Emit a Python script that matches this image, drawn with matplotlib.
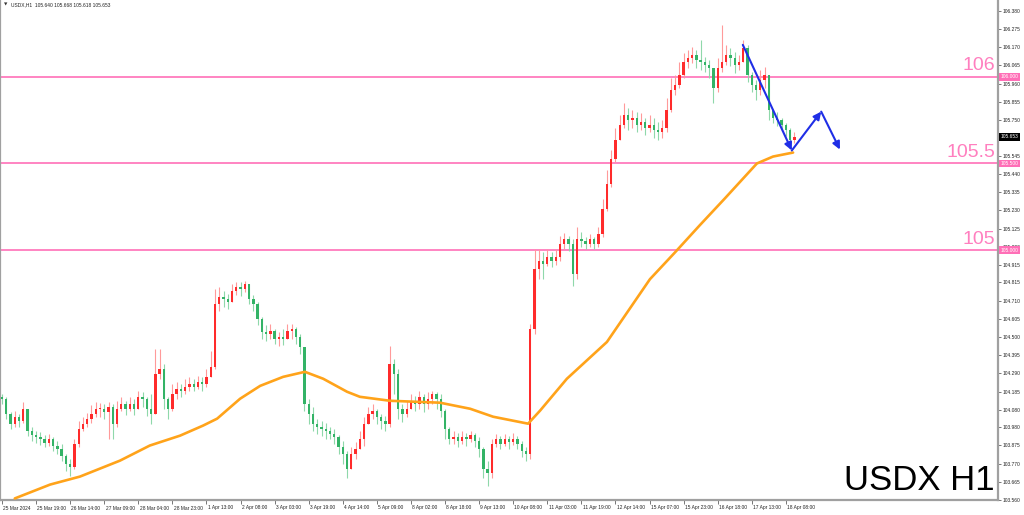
import matplotlib
matplotlib.use("Agg")
import matplotlib.pyplot as plt
import matplotlib.transforms as mtransforms
import numpy as np

# ---------------- data ----------------
first_open = 104.155
closes = [
    104.144, 104.057, 104.000, 104.040, 104.017, 104.086, 103.960, 103.937, 103.925, 103.914,
    103.891, 103.914, 103.874, 103.856, 103.816, 103.770, 103.753, 103.885, 103.971, 104.000,
    104.029, 104.057, 104.086, 104.086, 104.069, 104.098, 104.000, 104.086, 104.115, 104.086,
    104.115, 104.086, 104.155, 104.144, 104.086, 104.057, 104.287, 104.316, 104.144, 104.086,
    104.172, 104.201, 104.190, 104.213, 104.230, 104.213, 104.241, 104.230, 104.270, 104.327,
    104.690, 104.730, 104.718, 104.701, 104.764, 104.787, 104.776, 104.805, 104.718, 104.690,
    104.603, 104.529, 104.517, 104.534, 104.488, 104.500, 104.488, 104.534, 104.546, 104.500,
    104.442, 104.115, 104.057, 104.000, 103.983, 103.971, 103.960, 103.943, 103.925, 103.868,
    103.828, 103.741, 103.828, 103.856, 103.914, 104.000, 104.057, 104.075, 104.040, 104.017,
    104.000, 104.345, 104.287, 104.086, 104.057, 104.086, 104.132, 104.115, 104.155, 104.115,
    104.144, 104.172, 104.144, 104.075, 103.971, 103.914, 103.925, 103.902, 103.925, 103.914,
    103.937, 103.902, 103.856, 103.741, 103.713, 103.885, 103.914, 103.885, 103.914, 103.897,
    103.914, 103.885, 103.845, 103.828, 104.546, 104.891, 104.937, 104.919, 104.960, 104.937,
    104.960, 105.034, 105.063, 105.034, 104.862, 105.063, 105.052, 105.034, 105.063, 105.034,
    105.092, 105.236, 105.379, 105.523, 105.638, 105.724, 105.782, 105.753, 105.764, 105.724,
    105.741, 105.707, 105.724, 105.695, 105.684, 105.707, 105.810, 105.925, 105.954, 106.011,
    106.086, 106.109, 106.126, 106.098, 106.086, 106.069, 106.052, 105.937, 106.052, 106.086,
    106.126, 106.109, 106.069, 106.086, 106.167, 106.011, 105.954, 105.925, 105.983, 106.011,
    105.810, 105.764, 105.753, 105.724, 105.695, 105.638, 105.653,
]
highs = [
    104.172, 104.155, 104.069, 104.075, 104.057, 104.126, 104.086, 103.983, 103.960, 103.954,
    103.937, 103.943, 103.925, 103.902, 103.885, 103.828, 103.799, 103.914, 104.017, 104.040,
    104.063, 104.109, 104.126, 104.121, 104.115, 104.126, 104.115, 104.132, 104.155, 104.132,
    104.155, 104.144, 104.190, 104.184, 104.155, 104.172, 104.431, 104.431, 104.345, 104.155,
    104.230, 104.241, 104.230, 104.259, 104.270, 104.259, 104.276, 104.270, 104.316, 104.420,
    104.776, 104.787, 104.764, 104.747, 104.805, 104.816, 104.816, 104.822, 104.805, 104.741,
    104.701, 104.615, 104.569, 104.575, 104.546, 104.529, 104.546, 104.575, 104.575, 104.557,
    104.517, 104.442, 104.144, 104.098, 104.029, 104.017, 104.006, 103.983, 103.971, 103.937,
    103.902, 103.845, 103.868, 103.897, 103.960, 104.040, 104.098, 104.115, 104.086, 104.057,
    104.046, 104.448, 104.374, 104.316, 104.115, 104.132, 104.172, 104.161, 104.190, 104.172,
    104.184, 104.190, 104.184, 104.172, 104.086, 103.983, 103.960, 103.948, 103.960, 103.948,
    103.960, 103.948, 103.925, 103.868, 103.787, 103.914, 103.943, 103.931, 103.943, 103.931,
    103.948, 103.931, 103.902, 103.868, 104.575, 105.006, 105.006, 104.988, 105.006, 104.988,
    105.006, 105.080, 105.098, 105.080, 105.063, 105.132, 105.103, 105.075, 105.092, 105.075,
    105.132, 105.293, 105.465, 105.580, 105.707, 105.782, 105.851, 105.822, 105.810, 105.799,
    105.793, 105.764, 105.782, 105.764, 105.741, 105.753, 105.879, 105.994, 106.011, 106.086,
    106.138, 106.155, 106.172, 106.155, 106.213, 106.115, 106.098, 106.040, 106.109, 106.299,
    106.184, 106.167, 106.144, 106.126, 106.213, 106.184, 106.029, 105.983, 106.040, 106.057,
    105.954, 105.810, 105.799, 105.764, 105.736, 105.707, 105.680,
]
lows = [
    104.115, 104.029, 103.971, 103.983, 103.983, 104.006, 103.931, 103.902, 103.891, 103.879,
    103.868, 103.874, 103.845, 103.828, 103.787, 103.730, 103.701, 103.741, 103.868, 103.960,
    103.983, 104.006, 104.040, 104.040, 104.029, 103.914, 103.914, 103.983, 104.075, 104.052,
    104.075, 104.052, 104.115, 104.098, 104.046, 104.000, 104.057, 104.259, 104.086, 104.029,
    104.075, 104.144, 104.155, 104.172, 104.190, 104.190, 104.201, 104.190, 104.213, 104.270,
    104.316, 104.649, 104.672, 104.661, 104.718, 104.741, 104.736, 104.759, 104.690, 104.649,
    104.569, 104.488, 104.477, 104.488, 104.460, 104.448, 104.454, 104.500, 104.488, 104.460,
    104.402, 104.075, 104.000, 103.960, 103.943, 103.931, 103.914, 103.914, 103.885, 103.828,
    103.770, 103.684, 103.741, 103.799, 103.856, 103.874, 104.000, 104.029, 104.000, 103.971,
    103.960, 103.983, 104.172, 104.029, 104.011, 104.040, 104.086, 104.075, 104.086, 104.069,
    104.086, 104.115, 104.086, 104.040, 103.914, 103.885, 103.885, 103.868, 103.885, 103.874,
    103.897, 103.868, 103.810, 103.684, 103.638, 103.684, 103.868, 103.856, 103.874, 103.856,
    103.879, 103.856, 103.810, 103.787, 103.799, 104.517, 104.833, 104.833, 104.908, 104.902,
    104.914, 104.937, 105.006, 104.994, 104.793, 104.833, 105.017, 105.006, 105.017, 105.006,
    105.017, 105.075, 105.224, 105.362, 105.511, 105.638, 105.707, 105.695, 105.707, 105.684,
    105.695, 105.667, 105.684, 105.649, 105.638, 105.649, 105.684, 105.799, 105.897, 105.937,
    105.994, 106.052, 106.080, 106.052, 106.040, 106.029, 105.994, 105.851, 105.914, 106.029,
    106.069, 106.063, 106.023, 106.040, 106.098, 105.971, 105.914, 105.868, 105.897, 105.937,
    105.753, 105.736, 105.718, 105.695, 105.661, 105.598, 105.618,
]

# moving average (orange) points: bar position, value
ma_pos = [3.0, 11.3, 18.3, 27.7, 34.7, 41.8, 47.2, 50.5, 55.9, 60.6, 66.0, 71.1, 75.4, 81.0,
          84.0, 91.1, 102.8, 109.9, 115.3, 123.5, 126.3, 132.6, 142.0, 152.1, 158.0, 163.8,
          169.7, 177.2, 181.0, 185.7]
ma_vals = [103.569, 103.649, 103.695, 103.787, 103.874, 103.931, 103.989, 104.029, 104.144,
           104.218, 104.270, 104.299, 104.259, 104.184, 104.155, 104.132, 104.121, 104.086,
           104.040, 104.000, 104.075, 104.259, 104.471, 104.833, 104.988, 105.144, 105.299,
           105.500, 105.540, 105.563]

# projected path (blue arrows)
path_pos = [173.9, 185.4, 192.3, 196.7]
path_vals = [106.184, 105.575, 105.799, 105.580]

levels = [106.0, 105.5, 105.0]
level_names = ["106", "105.5", "105"]
level_tags = ["106.000", "105.500", "105.000"]
last_price = 105.653

price_ticks = [106.380, 106.275, 106.170, 106.065, 105.960, 105.855, 105.750, 105.545,
               105.440, 105.335, 105.230, 105.125, 105.020, 104.915, 104.815, 104.710,
               104.605, 104.500, 104.395, 104.290, 104.185, 104.080, 103.980, 103.875,
               103.770, 103.665, 103.560]

time_labels = ["25 Mar 2024", "25 Mar 19:00", "26 Mar 14:00", "27 Mar 09:00", "28 Mar 04:00",
               "28 Mar 23:00", "1 Apr 13:00", "2 Apr 08:00", "3 Apr 03:00", "3 Apr 19:00",
               "4 Apr 14:00", "5 Apr 09:00", "8 Apr 02:00", "8 Apr 18:00", "9 Apr 13:00",
               "10 Apr 08:00", "11 Apr 03:00", "11 Apr 19:00", "12 Apr 14:00", "15 Apr 07:00",
               "15 Apr 23:00", "16 Apr 18:00", "17 Apr 13:00", "18 Apr 08:00"]
time_label_step = 8

header = "USDX,H1  105.640 105.668 105.618 105.653"
title_text = "USDX H1"

# ---------------- figure ----------------
W, H = 1024, 515
SMALL = dict(family="Liberation Sans", fontsize=3.5)
fig = plt.figure(figsize=(W / 100, H / 100), dpi=100)
fig.patch.set_facecolor("white")
ax = fig.add_axes([0.0, 15 / H, 998 / W, 500 / H])
ax.set_facecolor("white")

n = len(closes)
x = np.arange(n)
opens = np.array([first_open] + closes[:-1])
c = np.array(closes)
hi = np.maximum.reduce([np.array(highs), opens, c])
lo = np.minimum.reduce([np.array(lows), opens, c])
up = c >= opens

RED, GREEN = "#ff2b2b", "#33b366"
RED_W, GREEN_W = "#ff9a9a", "#8fd8aa"

ax.vlines(x[up], lo[up], hi[up], color=RED_W, lw=0.8, zorder=2)
ax.vlines(x[~up], lo[~up], hi[~up], color=GREEN_W, lw=0.8, zorder=2)
body_lo = np.minimum(opens, c)
body_h = np.maximum(np.abs(c - opens), 0.004)
ax.bar(x[up], body_h[up], bottom=body_lo[up], width=0.55, color=RED, lw=0, zorder=3)
ax.bar(x[~up], body_h[~up], bottom=body_lo[~up], width=0.55, color=GREEN, lw=0, zorder=3)

# moving average
ax.plot(ma_pos, ma_vals, color="#ffa31a", lw=1.9, zorder=4, solid_capstyle="round",
        solid_joinstyle="round")

# horizontal levels
PINK = "#ff6fb7"
trans_r = mtransforms.blended_transform_factory(ax.transAxes, ax.transData)
for lv, name in zip(levels, level_names):
    ax.axhline(lv, color=PINK, lw=1.2, zorder=1)
    ax.text(995 / 998, lv + 0.014, name, transform=trans_r,
            ha="right", va="bottom", color="#ff7fbf", fontsize=14, family="Liberation Sans", zorder=6)

# blue projected path with arrowheads
BLUE = "#1f2ee6"
for k in range(len(path_pos) - 1):
    ax.annotate("", xy=(path_pos[k + 1], path_vals[k + 1]), xytext=(path_pos[k], path_vals[k]),
                arrowprops=dict(arrowstyle="-|>,head_length=0.45,head_width=0.22", color=BLUE, lw=1.5,
                                shrinkA=0, shrinkB=0), zorder=7)

# limits
px_per_bar = 4.26
ax.set_xlim(-2 / px_per_bar, (998 - 2) / px_per_bar)
ax.set_ylim(106.4425 - 500 / 174, 106.4425)

# spines
for s in ["left", "bottom", "right"]:
    ax.spines[s].set_color("#a0a0a0")
    ax.spines[s].set_linewidth(1.6)
ax.spines["top"].set_visible(False)

# price axis on right
ax.yaxis.tick_right()
ax.set_yticks(price_ticks)
ax.set_yticklabels([f"{v:.3f}" for v in price_ticks], **SMALL)
ax.tick_params(axis="y", which="both", direction="out", length=2, width=0.6, color="#606060",
               labelcolor="#222222", pad=1.5, left=False, right=True)

for lv, tag in zip(levels, level_tags):
    ax.text(1.0025, lv, tag, transform=trans_r, ha="left", va="center", color="white",
            bbox=dict(boxstyle="square,pad=0.3", fc=PINK, ec="none"), clip_on=False, zorder=8, **SMALL)
ax.text(1.0025, last_price, f"{last_price:.3f}", transform=trans_r, ha="left", va="center",
        color="white", bbox=dict(boxstyle="square,pad=0.3", fc="black", ec="none"), clip_on=False,
        zorder=8, **SMALL)

# time axis
tpos = [time_label_step * k for k in range(len(time_labels))]
ax.set_xticks(tpos)
ax.set_xticklabels([])
ax.tick_params(axis="x", direction="out", length=3, width=0.6, color="#606060")
trans_b = mtransforms.blended_transform_factory(ax.transData, ax.transAxes)
for tp, lab in zip(tpos, time_labels):
    ax.text(tp + 0.3, -0.011, lab, transform=trans_b, ha="left", va="top",
            color="#222222", clip_on=False, **SMALL)

# header and watermark
fig.text(4 / W, 1 - 5 / H, "\u25BC", fontsize=3.2, color="#333333", va="center", ha="left")
fig.text(11 / W, 1 - 5 / H, header, color="#222222", va="center", ha="left", **SMALL)
ax.text(995 / 998, 3 / 500, title_text, transform=ax.transAxes, ha="right", va="bottom",
        fontsize=25, family="Liberation Sans", color="black", zorder=9)

fig.savefig("out.png", dpi=100, facecolor="white")
